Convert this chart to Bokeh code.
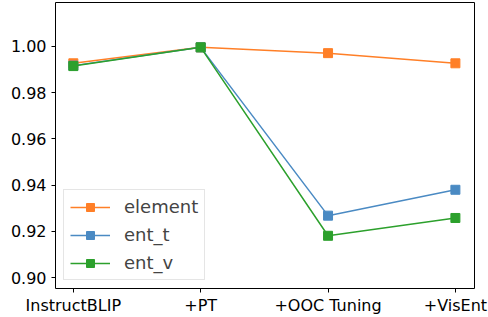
from bokeh.plotting import figure
from bokeh.models import FixedTicker, Range1d, Legend, LegendItem, NumeralTickFormatter
from bokeh.embed import file_html
from bokeh.resources import INLINE

categories = ["InstructBLIP", "+PT", "+OOC Tuning", "+VisEnt"]
element = [0.9927, 0.9996, 0.9971, 0.9927]
ent_t = [0.9917, 0.9996, 0.9268, 0.9380]
ent_v = [0.9915, 0.9996, 0.9181, 0.9258]
y_ticks = [0.90, 0.92, 0.94, 0.96, 0.98, 1.00]

series = [("element", element, "#ff7f27"), ("ent_t", ent_t, "#4a8ac3"), ("ent_v", ent_v, "#2ca02c")]

x = list(range(len(categories)))

p = figure(width=488, height=317, output_backend="svg", toolbar_location=None,
           x_range=Range1d(-0.14, 3.15), y_range=Range1d(0.8953, 1.019),
           min_border_left=55, min_border_right=14, min_border_top=2, min_border_bottom=28)
p.xgrid.visible = False
p.ygrid.visible = False
p.outline_line_color = "black"
p.outline_line_width = 1
p.outline_line_alpha = 1

items = []
for name, vals, color in series:
    r1 = p.line(x, vals, line_color=color, line_width=1.5)
    r2 = p.scatter(x, vals, marker="square", size=9, fill_color=color, line_color=color)
    items.append(LegendItem(label=name, renderers=[r1, r2]))

for ax in (p.xaxis[0], p.yaxis[0]):
    ax.major_label_text_font = "DejaVu Sans"
    ax.major_label_text_font_size = "16px"
    ax.major_label_text_color = "black"
    ax.axis_line_color = None
    ax.major_tick_line_color = "black"
    ax.major_tick_out = 4
    ax.major_tick_in = 0
    ax.minor_tick_line_color = None

p.xaxis.ticker = FixedTicker(ticks=x)
p.xaxis.major_label_overrides = {i: c for i, c in enumerate(categories)}
p.xaxis.major_label_standoff = 3
p.yaxis.ticker = FixedTicker(ticks=y_ticks)
p.yaxis.formatter = NumeralTickFormatter(format="0.00")
p.yaxis.major_label_standoff = 5

legend = Legend(items=items, location="bottom_left")
legend.label_text_font = "DejaVu Sans"
legend.label_text_font_size = "18px"
legend.label_standoff = 14
legend.glyph_width = 40
legend.glyph_height = 20
legend.label_height = 20
legend.spacing = 7
legend.padding = 6
legend.margin = 8
legend.border_line_color = "#cccccc"
legend.border_line_width = 1
legend.background_fill_alpha = 0.8
p.add_layout(legend, "center")

open("out.html", "w").write(file_html(p, INLINE))
